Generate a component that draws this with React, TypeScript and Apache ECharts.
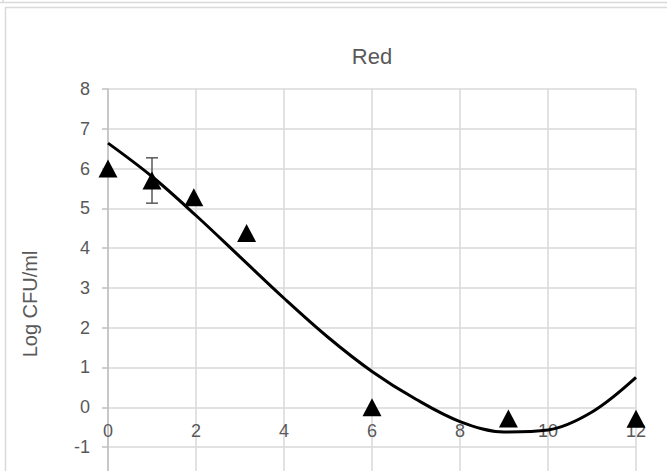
import React, { useEffect, useRef } from "react";
import * as echarts from "echarts";

// Measured points (time vs Log CFU/ml)
const pointX = [0, 1, 1.95, 3.15, 6, 9.1, 12];
const pointY = [6.0, 5.7, 5.28, 4.38, 0.0, -0.28, -0.29];

// Error bar (only visible one)
const errX = [1];
const errLow = [5.13];
const errHigh = [6.27];

// Trend curve
const curveX = [0, 1, 2, 3, 4, 5, 6, 7, 8, 9, 10, 11, 12];
const curveY = [6.64, 5.8, 4.82, 3.78, 2.74, 1.76, 0.9, 0.2, -0.36, -0.62, -0.57, -0.12, 0.75];

const xTicks = [0, 2, 4, 6, 8, 10, 12];
const yTicks = [-3, -2, -1, 0, 1, 2, 3, 4, 5, 6, 7, 8];
const yLabelMin = -1; // lower labels fall outside the visible picture

const TEXT = "#595959";
const GRID = "#d9d9d9";
const AXIS = "#bfbfbf";
const FONT = "Liberation Sans, Arial, sans-serif";

export default function App() {
  const ref = useRef<HTMLDivElement>(null);
  useEffect(() => {
    if (!ref.current) return;
    const chart = echarts.init(ref.current, undefined, { renderer: "svg" });
    const points = pointX.map((x, i) => [x, pointY[i]]);
    const curve = curveX.map((x, i) => [x, curveY[i]]);
    const errs = errX.map((x, i) => [x, errLow[i], errHigh[i]]);
    const xLabelData = xTicks.map((x) => [x, 0]);
    chart.setOption({
      animation: false,
      backgroundColor: "#ffffff",
      textStyle: { fontFamily: FONT },
      graphic: [
        { type: "line", shape: { x1: 0, y1: 2.5, x2: 760, y2: 2.5 }, style: { stroke: GRID, lineWidth: 1.5 }, silent: true },
        { type: "line", shape: { x1: 3, y1: 0, x2: 3, y2: 2.5 }, style: { stroke: GRID, lineWidth: 1.5 }, silent: true },
        { type: "rect", shape: { x: 5.5, y: 7.5, width: 800, height: 800 }, style: { fill: "none", stroke: GRID, lineWidth: 1.5 }, silent: true },
        {
          type: "text",
          x: 372,
          y: 56,
          style: { text: "Red", fill: TEXT, font: `22px ${FONT}`, align: "center", verticalAlign: "middle" },
        },
        {
          type: "text",
          x: 30,
          y: 304,
          rotation: Math.PI / 2,
          style: { text: "Log CFU/ml", fill: TEXT, font: `20px ${FONT}`, align: "center", verticalAlign: "middle" },
        },
      ],
      grid: { left: 108, top: 89, width: 528, height: 437.6, containLabel: false, outerBoundsMode: "none" },
      xAxis: {
        type: "value",
        min: xTicks[0],
        max: xTicks[xTicks.length - 1],
        interval: 2,
        axisLine: { show: false },
        axisTick: { show: false },
        axisLabel: { show: false },
        splitLine: { show: true, lineStyle: { color: GRID, width: 1.5 } },
      },
      yAxis: {
        type: "value",
        min: yTicks[0],
        max: yTicks[yTicks.length - 1],
        interval: 1,
        axisLine: { show: true, onZero: false, lineStyle: { color: AXIS, width: 1.5 } },
        axisTick: { show: true, length: 6, lineStyle: { color: AXIS, width: 1.5 } },
        axisLabel: {
          color: TEXT,
          fontSize: 18,
          margin: 18,
          fontFamily: FONT,
          formatter: (v: number) => (v < yLabelMin ? "" : String(v)),
        },
        splitLine: { show: true, lineStyle: { color: GRID, width: 1.5 } },
      },
      series: [
        {
          // x-axis tick labels sitting on the y = 0 line (axis crosses at zero)
          type: "custom",
          data: xLabelData,
          silent: true,
          z: 2,
          renderItem: (params: any, api: any) => {
            const p = api.coord([api.value(0), api.value(1)]);
            return {
              type: "text",
              x: p[0],
              y: p[1] + 15,
              style: {
                text: String(api.value(0)),
                fill: TEXT,
                font: `18px ${FONT}`,
                align: "center",
                verticalAlign: "top",
              },
            };
          },
        },
        {
          type: "custom",
          data: errs,
          z: 3,
          renderItem: (params: any, api: any) => {
            const x = api.value(0);
            const lo = api.coord([x, api.value(1)]);
            const hi = api.coord([x, api.value(2)]);
            const hw = 6;
            const style = { stroke: TEXT, lineWidth: 1.5 };
            return {
              type: "group",
              children: [
                { type: "line", shape: { x1: hi[0], y1: hi[1], x2: lo[0], y2: lo[1] }, style },
                { type: "line", shape: { x1: hi[0] - hw, y1: hi[1], x2: hi[0] + hw, y2: hi[1] }, style },
                { type: "line", shape: { x1: lo[0] - hw, y1: lo[1], x2: lo[0] + hw, y2: lo[1] }, style },
              ],
            };
          },
        },
        {
          type: "scatter",
          data: points,
          symbol: "triangle",
          symbolSize: [19, 18],
          itemStyle: { color: "#000000", opacity: 1 },
          z: 4,
        },
        {
          type: "line",
          data: curve,
          smooth: 0.35,
          showSymbol: false,
          lineStyle: { color: "#000000", width: 3 },
          z: 5,
        },
      ],
    });
    return () => chart.dispose();
  }, []);
  return (
    <div style={{ position: "absolute", left: 0, top: 0, width: 667, height: 471, overflow: "hidden", background: "#fff" }}>
      <div ref={ref} style={{ width: 760, height: 560 }} />
    </div>
  );
}
